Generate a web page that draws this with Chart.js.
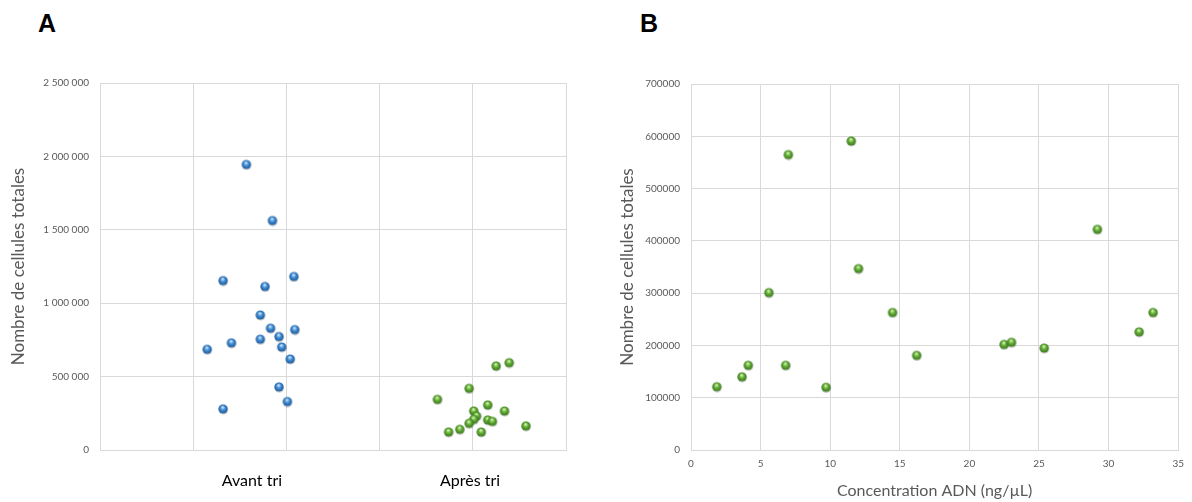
<!DOCTYPE html>
<html>
<head>
<meta charset="utf-8">
<script src="https://cdn.jsdelivr.net/npm/chart.js@4.4.1/dist/chart.umd.min.js"></script>
<style>
  body { margin: 0; background: #fff; width: 1192px; height: 502px; position: relative; overflow: hidden; }
  .panel { position: absolute; top: 0; width: 596px; height: 502px; }
  .tag { position: absolute; top: 9px; font: bold 25px "Liberation Sans", Arial, sans-serif; color: #000; }
</style>
</head>
<body>
<div class="tag" style="left:38px">A</div>
<div class="tag" style="left:640px">B</div>
<div class="panel" style="left:0"><canvas id="chartA" width="596" height="502"></canvas></div>
<div class="panel" style="left:596px"><canvas id="chartB" width="596" height="502"></canvas></div>
<script>
/*==== data : panel A ====*/
const categories = ['Avant tri', 'Après tri'];
const categoryPos = [1.63, 3.97];
// jitter positions
const avantX = [1.57, 1.85, 1.32, 2.08, 1.77, 1.72, 1.83, 2.09, 1.92, 1.72, 1.41, 1.15, 1.95, 2.04, 1.92, 2.01, 1.32];
const avantY = [1945000, 1563000, 1154000, 1182000, 1114000, 920000, 830000, 820000, 773000, 755000, 730000, 686000, 702000, 620000, 430000, 330000, 280000];
const apresX = [4.25, 4.39, 3.96, 3.62, 4.16, 4.34, 4.01, 4.04, 4.01, 4.16, 4.21, 3.96, 4.57, 3.86, 3.74, 4.09];
const apresY = [573000, 595000, 420000, 345000, 307000, 266000, 266000, 232000, 209000, 205000, 195000, 182000, 164000, 141000, 123000, 123000];
const yTicksA = ['0', '500 000', '1 000 000', '1 500 000', '2 000 000', '2 500 000'];

/*==== data : panel B ====*/
const concADN = [1.85, 3.66, 4.11, 6.80, 5.59, 6.99, 11.51, 12.03, 9.70, 14.48, 16.21, 22.49, 23.02, 25.37, 29.19, 32.19, 33.19];
const cellules = [121000, 140000, 162000, 162000, 301000, 565000, 591000, 347000, 120000, 263000, 181000, 202000, 206000, 195000, 422000, 226000, 263000];
const yTicksB = ['0', '100000', '200000', '300000', '400000', '500000', '600000', '700000'];
const xTicksB = ['0', '5', '10', '15', '20', '25', '30', '35'];

const gridCol = '#d9d9d9';
const textCol = '#595959';

/*==== shiny ball markers ====*/
function makeBall(light, mid, dark) {
    const c = document.createElement('canvas');
    c.width = 12; c.height = 12;
    const g = c.getContext('2d');
    // soft shadow
    g.fillStyle = 'rgba(0,0,0,0.18)';
    g.beginPath(); g.arc(6.3, 6.8, 4.9, 0, Math.PI * 2); g.fill();
    const grd = g.createRadialGradient(5.6, 4.2, 0.3, 6, 6, 5);
    grd.addColorStop(0, light);
    grd.addColorStop(0.45, mid);
    grd.addColorStop(1, dark);
    g.fillStyle = grd;
    g.beginPath(); g.arc(6, 6, 4.6, 0, Math.PI * 2); g.fill();
    return c;
}
const blueBall = makeBall('#cfe6fb', '#3d8ad3', '#1b5592');
const greenBall = makeBall('#d8f5b8', '#62ac34', '#35721a');

function toPts(xs, ys) {
    return xs.map((x, i) => ({x: x, y: ys[i]}));
}

/*==== panel A ====*/
new Chart(document.getElementById('chartA'), {
    type: 'scatter',
    data: {
        datasets: [
            {label: categories[0], data: toPts(avantX, avantY), pointStyle: blueBall},
            {label: categories[1], data: toPts(apresX, apresY), pointStyle: greenBall}
        ]
    },
    options: {
        responsive: false,
        animation: false,
        devicePixelRatio: 1,
        layout: {padding: {top: 83, right: 30, left: 0, bottom: 0}},
        plugins: {legend: {display: false}, tooltip: {enabled: false}},
        scales: {
            x: {
                type: 'linear', min: 0, max: 5,
                afterBuildTicks: (s) => {
                    s.ticks = [0, 1, 2, 3, 4, 5].map(v => ({value: v}))
                        .concat(categoryPos.map(v => ({value: v})));
                },
                afterFit: (s) => { s.height = 52; },
                grid: {
                    color: (ctx) => (ctx.tick && Number.isInteger(ctx.tick.value)) ? gridCol : 'rgba(0,0,0,0)',
                    drawTicks: false
                },
                border: {color: gridCol},
                ticks: {
                    autoSkip: false,
                    maxRotation: 0,
                    padding: 21,
                    color: '#000',
                    font: {family: 'Lato', size: 16},
                    callback: (v) => {
                        const k = categoryPos.indexOf(v);
                        return k >= 0 ? categories[k] : '';
                    }
                }
            },
            y: {
                min: 0, max: 2500000,
                afterFit: (s) => { s.width = 100; },
                grid: {color: gridCol, drawTicks: false},
                border: {color: gridCol},
                ticks: {
                    stepSize: 500000,
                    padding: 11,
                    color: textCol,
                    font: {family: 'Lato', size: 10},
                    callback: (v, i) => yTicksA[i]
                },
                title: {
                    display: true,
                    text: 'Nombre de cellules totales',
                    color: textCol,
                    font: {family: 'Lato', size: 17},
                    padding: {top: 8}
                }
            }
        }
    }
});

/*==== panel B ====*/
new Chart(document.getElementById('chartB'), {
    type: 'scatter',
    data: {
        datasets: [
            {label: 'Nombre de cellules totales', data: toPts(concADN, cellules), pointStyle: greenBall}
        ]
    },
    options: {
        responsive: false,
        animation: false,
        devicePixelRatio: 1,
        layout: {padding: {top: 84, right: 9, left: 0, bottom: 0}},
        plugins: {legend: {display: false}, tooltip: {enabled: false}},
        scales: {
            x: {
                type: 'linear', min: 0, max: 35,
                afterFit: (s) => { s.height = 52; },
                grid: {color: gridCol, drawTicks: false},
                border: {color: gridCol},
                ticks: {
                    stepSize: 5,
                    padding: 8,
                    maxRotation: 0,
                    color: textCol,
                    font: {family: 'Lato', size: 10},
                    callback: (v, i) => xTicksB[i]
                },
                title: {
                    display: true,
                    text: 'Concentration ADN (ng/µL)',
                    color: textCol,
                    font: {family: 'Lato', size: 16},
                    padding: {bottom: 2}
                }
            },
            y: {
                min: 0, max: 700000,
                afterFit: (s) => { s.width = 95; },
                grid: {color: gridCol, drawTicks: false},
                border: {color: gridCol},
                ticks: {
                    stepSize: 100000,
                    padding: 11,
                    color: textCol,
                    font: {family: 'Lato', size: 10},
                    callback: (v, i) => yTicksB[i]
                },
                title: {
                    display: true,
                    text: 'Nombre de cellules totales',
                    color: textCol,
                    font: {family: 'Lato', size: 17},
                    padding: {top: 21}
                }
            }
        }
    }
});
</script>
</body>
</html>
